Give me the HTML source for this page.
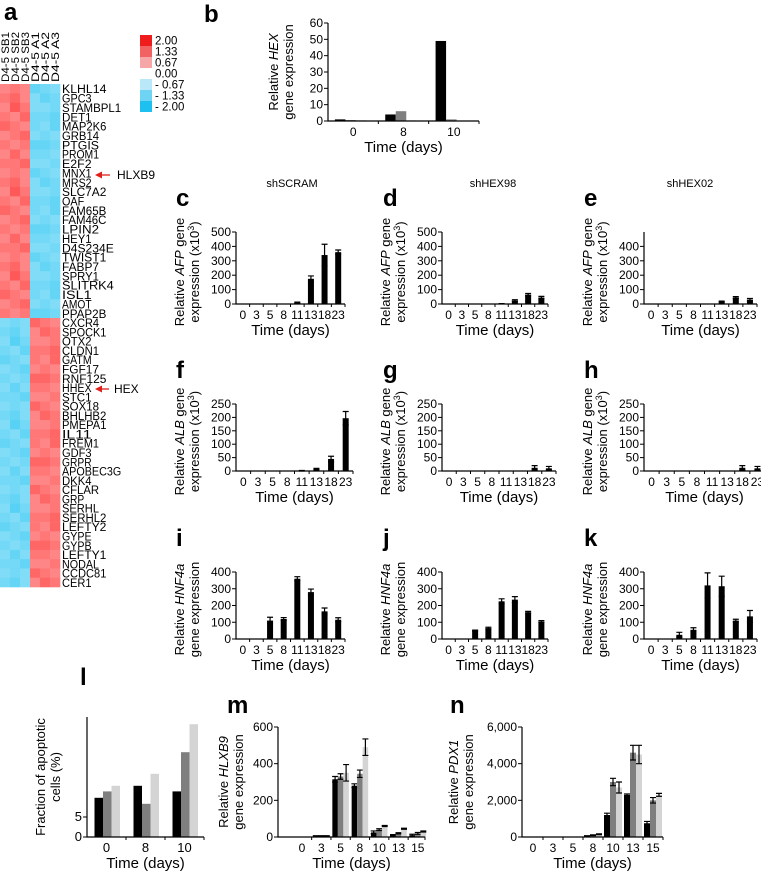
<!DOCTYPE html>
<html><head><meta charset="utf-8"><style>
html,body{margin:0;padding:0;background:#fff;}
svg{display:block;font-family:"Liberation Sans",Arial,sans-serif;}
</style></head><body>
<svg id="fig" width="761" height="872" viewBox="0 0 761 872" xmlns="http://www.w3.org/2000/svg"></svg>
<script>
// ---------- Heatmap data ----------
const hmColumns = ["D4-5 SB1","D4-5 SB2","D4-5 SB3","D4-5 A1","D4-5 A2","D4-5 A3"];
const hmTopGenes = ["KLHL14","GPC3","STAMBPL1","DET1","MAP2K6","GRB14","PTGIS","PROM1","E2F2","MNX1","MRS2","SLC7A2","OAF","FAM65B","FAM46C","LPIN2","HEY1","D4S234E","TWIST1","FABP7","SPRY1","SLITRK4","ISL1","AMOT","PPAP2B"];
const hmBottomGenes = ["CXCR4","SPOCK1","OTX2","CLDN1","GATM","FGF17","RNF125","HHEX","STC1","SOX18","BHLHB2","PMEPA1","IL11","FREM1","GDF3","GRPR","APOBEC3G","DKK4","CFLAR","GRP","SERHL","SERHL2","LEFTY2","GYPE","GYPB","LEFTY1","NODAL","CCDC81","CER1"];
const hmVariation = ["0102101","1200210","0310012","1021120","2101021","0120102","1012210","0201101","1120012"];
const legendValues = ["2.00","1.33","0.67","0.00","- 0.67","- 1.33","- 2.00"];

// ---------- Panel b ----------
const bCats = ["0","8","10"];
const bBlack = [1,4,49];
const bGrey = [0.6,6,1];
const bLight = [0.5,0.4,0.3];
const bTicks = [0,10,20,30,40,50,60];

// ---------- Panels c-k ----------
const dayCats = ["0","3","5","8","11","13","18","23"];
const cVals = [0,0,0,0,10,175,340,360];
const cErr = [0,0,0,0,3,20,75,15];
const dVals = [0,0,0,0,2,25,65,45];
const dErr = [0,0,0,0,1,5,8,8];
const eVals = [0,0,0,0,0,18,45,30];
const eErr = [0,0,0,0,0,2,6,8];
const fVals = [0,0,0,0,1,8,45,197];
const fErr = [0,0,0,0,1,2,10,25];
const gVals = [0,0,0,0,0,0,12,10];
const gErr = [0,0,0,0,0,0,8,7];
const hVals = [0,0,0,0,0,0,12,10];
const hErr = [0,0,0,0,0,0,8,7];
const iVals = [0,2,110,120,360,280,165,115];
const iErr = [0,0,20,8,12,18,20,12];
const jVals = [0,1,50,65,225,235,160,105];
const jErr = [0,0,3,5,15,18,5,5];
const kVals = [0,1,25,55,320,315,110,135];
const kErr = [0,0,15,12,75,60,8,35];
const afpTicks = [0,100,200,300,400,500];
const afpTicksE = [0,100,200,300,400];
const albTicks = [0,50,100,150,200,250];
const hnfTicks = [0,100,200,300,400];

// ---------- Panel l ----------
const lCats = ["0","8","10"];
const lBlack = [9.8,12.8,11.4];
const lGrey = [11.4,8.3,21.2];
const lLight = [12.8,15.8,28.2];
const lTicks = [0,5];

// ---------- Panel m ----------
const mCats = ["0","3","5","8","10","13","15"];
const mBlack = [0,5,315,280,25,10,10];
const mGrey = [0,5,330,345,40,20,20];
const mLight = [0,5,350,490,60,45,30];
const mBlackErr = [0,2,15,10,8,3,5];
const mGreyErr = [0,2,15,20,5,3,5];
const mLightErr = [0,2,45,45,3,3,3];
const mTicks = [0,200,400,600];

// ---------- Panel n ----------
const nCats = ["0","3","5","8","10","13","15"];
const nBlack = [0,0,0,50,1200,2300,750];
const nGrey = [0,0,0,100,3000,4600,2000];
const nLight = [0,0,0,150,2700,4500,2300];
const nBlackErr = [0,0,0,20,100,50,100];
const nGreyErr = [0,0,0,20,200,400,150];
const nLightErr = [0,0,0,20,300,500,80];
const nTicks = [0,2000,4000,6000];
const nTickLabels = ["0","2,000","4,000","6,000"];

const NS = "http://www.w3.org/2000/svg";
const svg = document.getElementById('fig');
function el(tag, attrs, parent){
  const e = document.createElementNS(NS, tag);
  for (const k in attrs) e.setAttribute(k, attrs[k]);
  (parent||svg).appendChild(e);
  return e;
}
function txt(s, x, y, size, parent, extra){
  const t = el('text', Object.assign({x:x, y:y, 'font-size':size, fill:'#000'}, extra||{}), parent);
  t.textContent = s;
  return t;
}

// ---------- Heatmap ----------
function heatColor(v){
  if (v >= 0){
    const t = Math.min(v/2,1);
    return `rgb(255,${Math.round(255-t*255)},${Math.round(255-t*255)})`;
  }
  const t = Math.min(-v/2,1);
  return `rgb(${Math.round(255-t*230)},${Math.round(255-t*63)},${Math.round(255-t*15)})`;
}
const hm = el('g', {});


function drawBlock(genes, y0, y1, topRed){
  const rh = (y1-y0)/genes.length;
  const cw = 10;
  genes.forEach((g, r) => {
    const varStr = hmVariation[r % hmVariation.length];
    hmColumns.forEach((c, ci) => {
      const isRed = topRed ? ci < 3 : ci >= 3;
      const mag = 0.95 + Number(varStr[ci]) * 0.12;
      const v = isRed ? mag : -(mag + 0.15);
      const rect = el('rect', {x: ci*cw, y: y0 + r*rh, width: cw+0.3, height: rh+0.3, fill: heatColor(v)}, hm);
      
      
    });
    const t = txt(g, 62, y0 + r*rh + rh/2 + 4.5, 11.5, hm, {textLength: Math.min(g.length*7.4, 82), lengthAdjust:'spacingAndGlyphs'});
    
    
  });
}
drawBlock(hmTopGenes, 84, 318, true);
drawBlock(hmBottomGenes, 318, 587, false);
hmColumns.forEach((c, ci) => {
  const x = ci*10 + 9;
  const t = txt(c, x, 82, 11, hm, {transform:`rotate(-90 ${x} 82)`, textLength:50, lengthAdjust:'spacingAndGlyphs'});
  
  
});
function arrow(x1, x2, y, label, lx){
  const g = el('g', {});
  
  
  el('line', {x1:x1, y1:y, x2:x2+5, y2:y, stroke:'#e0201a', 'stroke-width':1.3}, g);
  el('polygon', {points:`${x2},${y} ${x2+7},${y-3.5} ${x2+7},${y+3.5}`, fill:'#e0201a'}, g);
  txt(label, lx, y+4, 12, g);
}
arrow(110, 95, 175, 'HLXB9', 117);
arrow(109, 95, 389, 'HEX', 114);
const lg = el('g', {});


const legendColors = ['#ee1c1c','#f26262','#f6a6a6','#ffffff','#b9e9f8','#6fd3f3','#1ec0f0'];
legendValues.forEach((v, i) => {
  const y = 35 + i*11;
  el('rect', {x:140, y:y, width:12, height:11, fill:legendColors[i]}, lg);
  txt(v, 155, y+9.5, 11.5, lg);
});

// ---------- Bar chart helper ----------
function barChart(o){
  const g = el('g', {});
  
  
  const yScale = v => o.y0 - v / o.ymax * (o.y0 - o.yTop);
  const n = o.cats.length;
  const step = o.step || (o.x1 - o.x0)/n;
  const pad = o.pad !== undefined ? o.pad : step/2;
  const xc = i => o.x0 + pad + i*step;
  const ns = o.series.length;
  o.series.forEach((ser, si) => {
    ser.forEach((v, i) => {
      const gx = xc(i) - ns*o.bw/2 + (o.shift||0) + si*o.bw;
      const r = el('rect', {x:gx, y:yScale(v), width:o.bw, height:Math.max(o.y0 - yScale(v), 0), fill:o.colors[si]}, g);
      
      
      if (o.errors && o.errors[si] && o.errors[si][i] > 0){
        const cx = gx + o.bw/2, yt = yScale(v + o.errors[si][i]), yb = yScale(v - o.errors[si][i]);
        const e = el('path', {d:`M${cx},${yb}V${yt}M${cx-3},${yt}H${cx+3}M${cx-3},${yb}H${cx+3}`, stroke:'#000', 'stroke-width':1.2, fill:'none'}, g);
        
        
      }
    });
  });
  const ax = el('path', {d:`M${o.x0},${o.axisTop !== undefined ? o.axisTop : yScale(o.ymax)}V${o.y0}H${o.x1}`, stroke:'#000', 'stroke-width':1.2, fill:'none'}, g);
  
  
  o.ticks.forEach((t, ti) => {
    const y = yScale(t);
    el('line', {x1:o.x0-4, y1:y, x2:o.x0, y2:y, stroke:'#000', 'stroke-width':1}, g);
    const lab = txt(o.tickLabels ? o.tickLabels[ti] : String(t), o.x0-5, y+4, o.fs||12, g, {'text-anchor':'end'});
    
    
  });
  for (let i = 1; i <= n; i++){
    const x = (i < n) ? (xc(i-1)+xc(i))/2 : o.x1;
    el('line', {x1:x, y1:o.y0, x2:x, y2:o.y0+3, stroke:'#000', 'stroke-width':1}, g);
  }
  o.cats.forEach((c, i) => {
    const lab = txt(c, xc(i), o.y0+15, o.fs||12, g, {'text-anchor':'middle'});
    
    
  });
  const xt = txt('Time (days)', (o.x0+o.x1)/2, o.y0+31, 15, g, {'text-anchor':'middle'});
  
  
  const ymid = (o.y0 + o.yTop)/2 + (o.ytShiftY||0);
  o.ytitle.forEach((line, li) => {
    const x = o.x0 + o.ytOff + li*15;
    const t = el('text', {x:x, y:ymid, 'font-size':13, 'text-anchor':'middle', transform:`rotate(-90 ${x} ${ymid})`}, g);
    
    
    line.forEach(seg => {
      const s = el('tspan', seg[1] ? {'font-style':'italic'} : {}, t);
      s.textContent = seg[0];
      if (seg[2]) { s.setAttribute('baseline-shift','super'); s.setAttribute('font-size','9'); }
    });
  });
  const L = txt(o.letter, o.lx, o.ly, 24, g, {'font-weight':'bold'});
  
  
  return g;
}

const BLK = '#000', GRY = '#7f7f7f', LGT = '#d4d4d4';
const afpTitle = [[["Relative "],["AFP",1],[" gene"]],[["expression (x10"],["3",0,1],[")"]]];
const albTitle = [[["Relative "],["ALB",1],[" gene"]],[["expression (x10"],["3",0,1],[")"]]];
const hnfTitle = [[["Relative "],["HNF4a",1]],[["gene expression"]]];

barChart({name:'panel-b-hex-chart', letter:'b', lx:204, ly:22, x0:328, x1:479, y0:121, yTop:23, ymax:60, cats:bCats,
  series:[bBlack,bGrey,bLight], colors:[BLK,GRY,LGT], bw:10.5, shift:-2.5, ticks:bTicks,
  ytitle:[[["Relative "],["HEX",1]],[["gene expression"]]], ytOff:-50});

const rows = [
  {y0:304, yTop:232, ymax:500, titles:afpTitle, ly:210},
  {y0:471, yTop:404, ymax:250, titles:albTitle, ly:382},
  {y0:639, yTop:572, ymax:400, titles:hnfTitle, ly:550}
];
const cols = [{x0:236, x1:345, lx:176}, {x0:442, x1:548, lx:383}, {x0:644, x1:757, lx:584}];
const gridData = [
  [[cVals,cErr,'c',afpTicks,'panel-c-afp-shscram'],[dVals,dErr,'d',afpTicks,'panel-d-afp-shhex98'],[eVals,eErr,'e',afpTicksE,'panel-e-afp-shhex02']],
  [[fVals,fErr,'f',albTicks,'panel-f-alb-shscram'],[gVals,gErr,'g',albTicks,'panel-g-alb-shhex98'],[hVals,hErr,'h',albTicks,'panel-h-alb-shhex02']],
  [[iVals,iErr,'i',hnfTicks,'panel-i-hnf4a-shscram'],[jVals,jErr,'j',hnfTicks,'panel-j-hnf4a-shhex98'],[kVals,kErr,'k',hnfTicks,'panel-k-hnf4a-shhex02']]
];
rows.forEach((r, ri) => cols.forEach((c, ci) => {
  const d = gridData[ri][ci];
  barChart({name:d[4], letter:d[2], lx:c.lx, ly:r.ly - 4, x0:c.x0, x1:c.x1 + (ri===1 ? 8 : 0), y0:r.y0, yTop:r.yTop, ymax:r.ymax,
    axisTop:r.yTop, cats:dayCats, series:[d[0]], errors:[d[1]], colors:[BLK], bw:6, ticks:d[3], fs:12,
    ytitle:r.titles, ytOff:-52, ytShiftY:4});
}));

[['shSCRAM',292],['shHEX98',493],['shHEX02',690]].forEach(p => {
  const t = txt(p[0], p[1], 187, 11, svg, {'text-anchor':'middle'});
  
  
});

barChart({name:'panel-l-apoptosis-chart', letter:'l', lx:80, ly:685, x0:87, x1:204, y0:837, yTop:717, ymax:30, axisTop:717,
  cats:lCats, series:[lBlack,lGrey,lLight], colors:[BLK,GRY,LGT], bw:8.5, shift:0.75, ticks:lTicks, fs:13,
  ytitle:[[["Fraction of apoptotic"]],[["cells (%)"]]], ytOff:-42});

barChart({name:'panel-m-hlxb9-chart', letter:'m', lx:227, ly:713, x0:278, x1:425, y0:837, yTop:727, ymax:600,
  cats:mCats, pad:24, step:19.3, series:[mBlack,mGrey,mLight], errors:[mBlackErr,mGreyErr,mLightErr],
  colors:[BLK,GRY,LGT], bw:5.5, ticks:mTicks, fs:12,
  ytitle:[[["Relative "],["HLXB9",1]],[["gene expression"]]], ytOff:-50});

barChart({name:'panel-n-pdx1-chart', letter:'n', lx:450, ly:713, x0:522, x1:663, y0:837, yTop:727, ymax:6000,
  cats:nCats, pad:11, step:20, series:[nBlack,nGrey,nLight], errors:[nBlackErr,nGreyErr,nLightErr],
  colors:[BLK,GRY,LGT], bw:6, ticks:nTicks, tickLabels:nTickLabels, fs:12,
  ytitle:[[["Relative "],["PDX1",1]],[["gene expression"]]], ytOff:-64});

const A = txt('a', 4, 20, 24, svg, {'font-weight':'bold'});


</script>
</body></html>
